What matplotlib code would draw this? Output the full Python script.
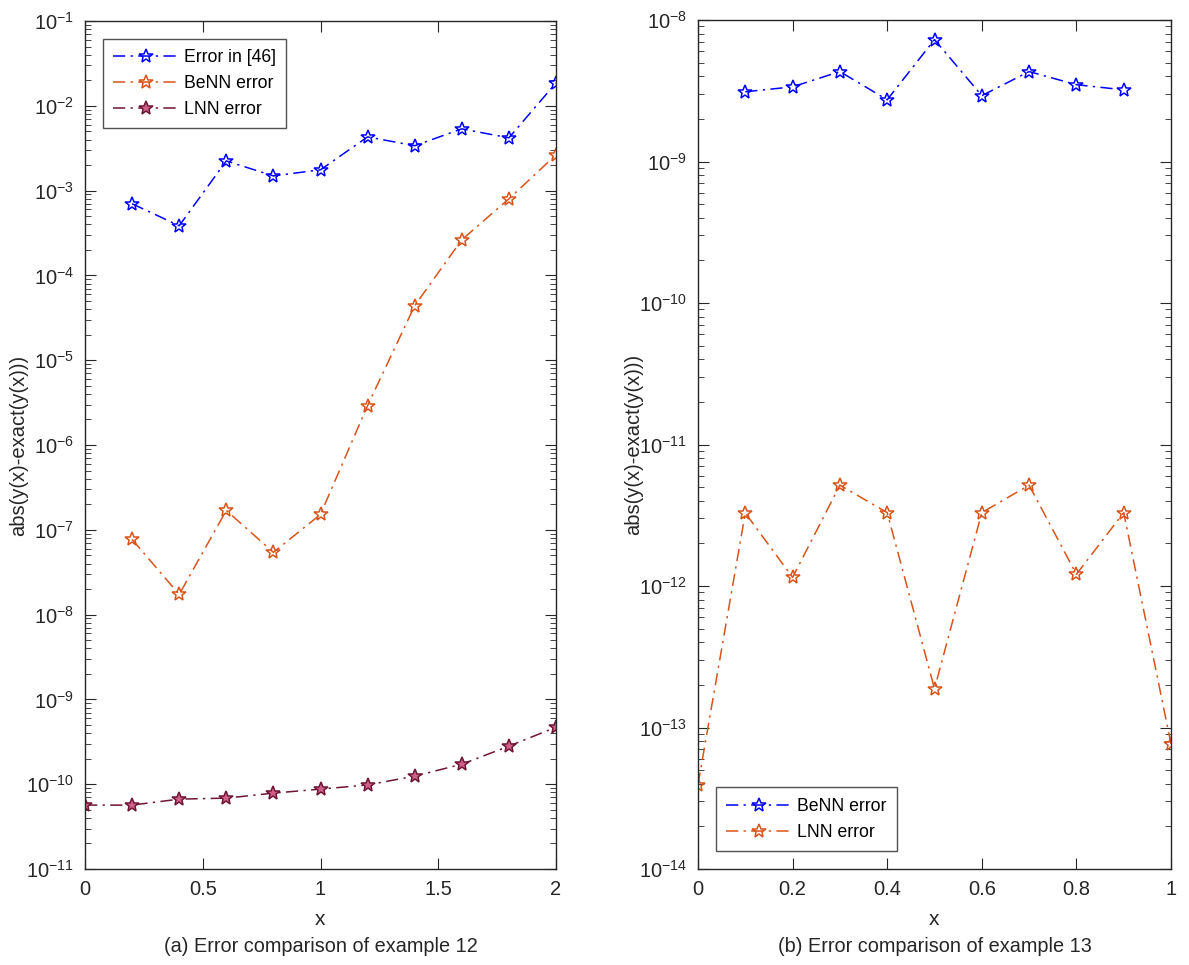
import matplotlib
matplotlib.use("Agg")
from matplotlib import pyplot as plt
from matplotlib.ticker import LogLocator, NullFormatter

plt.rcParams["font.family"] = ["Liberation Sans", "DejaVu Sans"]
plt.rcParams["mathtext.default"] = "regular"

# example 12
x12 = [0.0, 0.2, 0.4, 0.6, 0.8, 1.0, 1.2, 1.4, 1.6, 1.8, 2.0]
err46 = [7.0e-4, 3.85e-4, 2.24e-3, 1.49e-3, 1.76e-3, 4.3e-3, 3.38e-3, 5.35e-3, 4.19e-3, 1.86e-2]
benn12 = [7.7e-8, 1.73e-8, 1.69e-7, 5.42e-8, 1.52e-7, 2.92e-6, 4.4e-5, 2.63e-4, 8.0e-4, 2.64e-3]
lnn12 = [5.67e-11, 5.67e-11, 6.67e-11, 6.85e-11, 7.85e-11, 8.75e-11, 9.8e-11,
         1.245e-10, 1.72e-10, 2.81e-10, 4.7e-10]

# example 13
x13 = [0.0, 0.1, 0.2, 0.3, 0.4, 0.5, 0.6, 0.7, 0.8, 0.9, 1.0]
benn13 = [3.11e-9, 3.37e-9, 4.32e-9, 2.73e-9, 7.27e-9, 2.92e-9, 4.32e-9, 3.49e-9, 3.21e-9]
lnn13 = [3.95e-14, 3.28e-12, 1.15e-12, 5.16e-12, 3.3e-12, 1.88e-13, 3.3e-12, 5.16e-12,
         1.21e-12, 3.3e-12, 7.67e-14]

blue = "#0000FF"
orange = "#D95319"
maroon = "#6E1535"
txt = "#262626"

fig = plt.figure(figsize=(11.89, 9.65), dpi=100)
ax1 = fig.add_axes([85/1189, 1-869/965, (556-85)/1189, (869-21)/965])
ax2 = fig.add_axes([698/1189, 1-869/965, (1171-698)/1189, (869-20)/965])

mk = dict(marker="*", markersize=10, markerfacecolor="none", markeredgewidth=1.1,
          linestyle="-.", linewidth=1.1, dashes=(8, 3.5, 1.5, 3.5))

ax1.plot(x12[1:], err46, color=blue, markeredgecolor=blue, label="Error in [46]", **mk)
ax1.plot(x12[1:], benn12, color=orange, markeredgecolor=orange, label="BeNN error", **mk)
mk_l = dict(mk)
mk_l["markerfacecolor"] = "#D0608A"
ax1.plot(x12, lnn12, color=maroon, markeredgecolor=maroon, label="LNN error", **mk_l)

ax2.plot(x13[1:10], benn13, color=blue, markeredgecolor=blue, label="BeNN error", **mk)
ax2.plot(x13, lnn13, color=orange, markeredgecolor=orange, label="LNN error", **mk)

for ax in (ax1, ax2):
    ax.set_yscale("log")
    ax.tick_params(which="both", direction="in", top=True, right=True,
                   labelsize=14.5, colors=txt)
    ax.tick_params(axis="x", pad=8)
    ax.tick_params(axis="y", pad=8)
    ax.tick_params(which="major", length=8)
    ax.tick_params(which="minor", length=4)
    ax.yaxis.set_minor_locator(LogLocator(base=10, subs=range(2, 10), numticks=30))
    ax.yaxis.set_minor_formatter(NullFormatter())
    for s in ax.spines.values():
        s.set_color(txt)
        s.set_linewidth(1.0)
    ax.set_xlabel("x", fontsize=15, color=txt, labelpad=8)
    ax.set_ylabel("abs(y(x)-exact(y(x)))", fontsize=14.5, color=txt)

ax1.yaxis.set_label_coords(-0.12, 0.5)
ax2.yaxis.set_label_coords(-0.115, 0.5)

ax1.set_xlim(0, 2)
ax1.set_ylim(1e-11, 1e-1)
ax1.set_xticks([0, 0.5, 1, 1.5, 2])
ax1.set_xticklabels(["0", "0.5", "1", "1.5", "2"])
ax1.set_yticks([10.0**k for k in range(-11, 0)])

ax2.set_xlim(0, 1)
ax2.set_ylim(1e-14, 1e-8)
ax2.set_xticks([0, 0.2, 0.4, 0.6, 0.8, 1])
ax2.set_xticklabels(["0", "0.2", "0.4", "0.6", "0.8", "1"])
ax2.set_yticks([10.0**k for k in range(-14, -7)])

leg_kw = dict(fontsize=12.7, fancybox=False, edgecolor=txt, handlelength=3.7,
              handletextpad=0.3, borderaxespad=1.0, labelspacing=0.5, borderpad=0.6)
leg1 = ax1.legend(loc="upper left", **leg_kw)
leg1.get_frame().set_linewidth(1.0)
leg2 = ax2.legend(loc="lower left", **leg_kw)
leg2.get_frame().set_linewidth(1.0)

fig.text((85+556)/2/1189, 1-946/965, "(a) Error comparison of example 12",
         ha="center", va="center", fontsize=14.3, color=txt)
fig.text((698+1171)/2/1189, 1-946/965, "(b) Error comparison of example 13",
         ha="center", va="center", fontsize=14.3, color=txt)

fig.savefig("out.png", dpi=100)
